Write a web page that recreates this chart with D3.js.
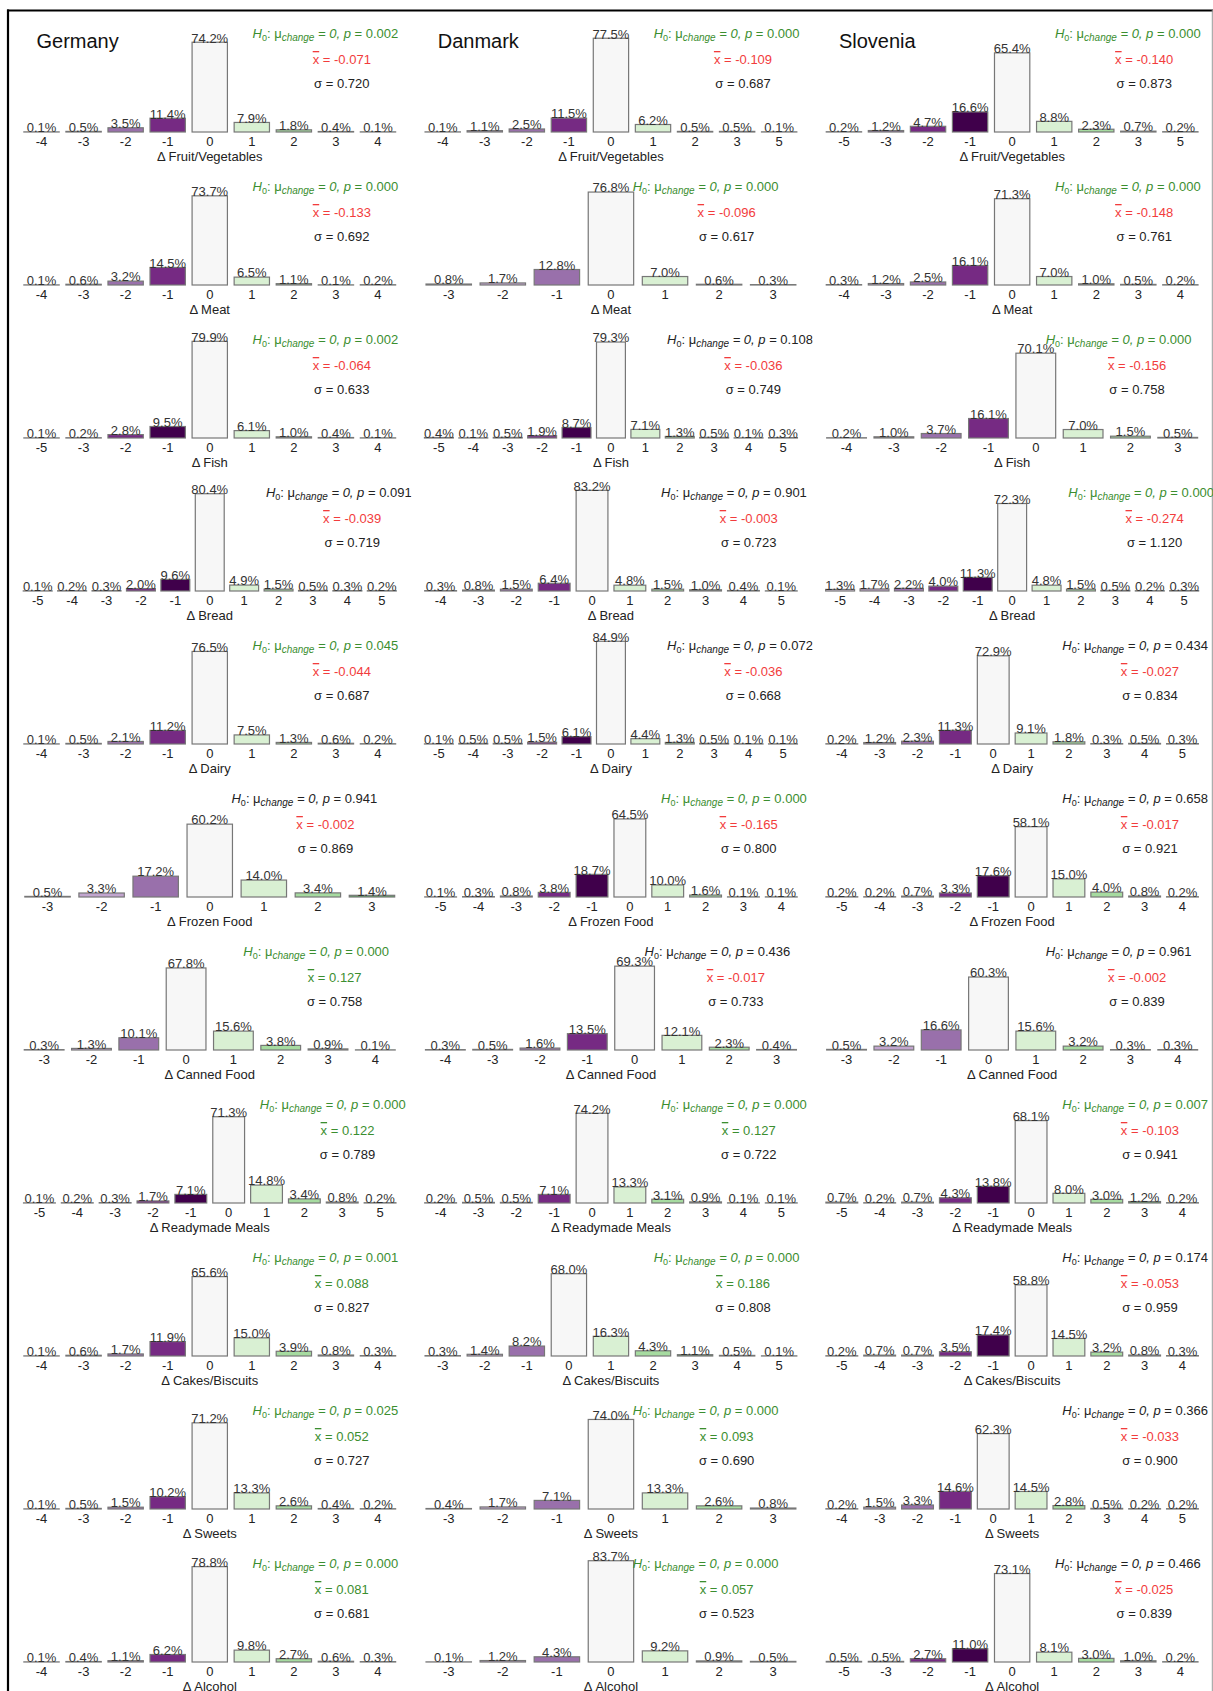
<!DOCTYPE html>
<html>
<head>
<meta charset="utf-8">
<script src="https://cdn.jsdelivr.net/npm/d3@7"></script>
<style>
  html, body { margin: 0; padding: 0; background: #fff; }
  svg { display: block; font-family: "Liberation Sans", Arial, sans-serif; }
</style>
</head>
<body>
<script>
// ---------------- DATA ----------------
const countries = ["Germany", "Danmark", "Slovenia"];
const foods = ["Fruit/Vegetables", "Meat", "Fish", "Bread", "Dairy", "Frozen Food",
  "Canned Food", "Readymade Meals", "Cakes/Biscuits", "Sweets", "Alcohol"];

// observed change categories per food (tick labels)
const germanyCats = [
  [-4,-3,-2,-1,0,1,2,3,4],
  [-4,-3,-2,-1,0,1,2,3,4],
  [-5,-3,-2,-1,0,1,2,3,4],
  [-5,-4,-3,-2,-1,0,1,2,3,4,5],
  [-4,-3,-2,-1,0,1,2,3,4],
  [-3,-2,-1,0,1,2,3],
  [-3,-2,-1,0,1,2,3,4],
  [-5,-4,-3,-2,-1,0,1,2,3,5],
  [-4,-3,-2,-1,0,1,2,3,4],
  [-4,-3,-2,-1,0,1,2,3,4],
  [-4,-3,-2,-1,0,1,2,3,4]
];
const germanyPct = [
  [0.1,0.5,3.5,11.4,74.2,7.9,1.8,0.4,0.1],
  [0.1,0.6,3.2,14.5,73.7,6.5,1.1,0.1,0.2],
  [0.1,0.2,2.8,9.5,79.9,6.1,1.0,0.4,0.1],
  [0.1,0.2,0.3,2.0,9.6,80.4,4.9,1.5,0.5,0.3,0.2],
  [0.1,0.5,2.1,11.2,76.5,7.5,1.3,0.6,0.2],
  [0.5,3.3,17.2,60.2,14.0,3.4,1.4],
  [0.3,1.3,10.1,67.8,15.6,3.8,0.9,0.1],
  [0.1,0.2,0.3,1.7,7.1,71.3,14.8,3.4,0.8,0.2],
  [0.1,0.6,1.7,11.9,65.6,15.0,3.9,0.8,0.3],
  [0.1,0.5,1.5,10.2,71.2,13.3,2.6,0.4,0.2],
  [0.1,0.4,1.1,6.2,78.8,9.8,2.7,0.6,0.3]
];
const germanyP    = [0.002,0.000,0.002,0.091,0.045,0.941,0.000,0.000,0.001,0.025,0.000];
const germanyMean = [-0.071,-0.133,-0.064,-0.039,-0.044,-0.002,0.127,0.122,0.088,0.052,0.081];
const germanySd   = [0.720,0.692,0.633,0.719,0.687,0.869,0.758,0.789,0.827,0.727,0.681];

const danmarkCats = [
  [-4,-3,-2,-1,0,1,2,3,5],
  [-3,-2,-1,0,1,2,3],
  [-5,-4,-3,-2,-1,0,1,2,3,4,5],
  [-4,-3,-2,-1,0,1,2,3,4,5],
  [-5,-4,-3,-2,-1,0,1,2,3,4,5],
  [-5,-4,-3,-2,-1,0,1,2,3,4],
  [-4,-3,-2,-1,0,1,2,3],
  [-4,-3,-2,-1,0,1,2,3,4,5],
  [-3,-2,-1,0,1,2,3,4,5],
  [-3,-2,-1,0,1,2,3],
  [-3,-2,-1,0,1,2,3]
];
const danmarkPct = [
  [0.1,1.1,2.5,11.5,77.5,6.2,0.5,0.5,0.1],
  [0.8,1.7,12.8,76.8,7.0,0.6,0.3],
  [0.4,0.1,0.5,1.9,8.7,79.3,7.1,1.3,0.5,0.1,0.3],
  [0.3,0.8,1.5,6.4,83.2,4.8,1.5,1.0,0.4,0.1],
  [0.1,0.5,0.5,1.5,6.1,84.9,4.4,1.3,0.5,0.1,0.1],
  [0.1,0.3,0.8,3.8,18.7,64.5,10.0,1.6,0.1,0.1],
  [0.3,0.5,1.6,13.5,69.3,12.1,2.3,0.4],
  [0.2,0.5,0.5,7.1,74.2,13.3,3.1,0.9,0.1,0.1],
  [0.3,1.4,8.2,68.0,16.3,4.3,1.1,0.5,0.1],
  [0.4,1.7,7.1,74.0,13.3,2.6,0.8],
  [0.1,1.2,4.3,83.7,9.2,0.9,0.5]
];
const danmarkP    = [0.000,0.000,0.108,0.901,0.072,0.000,0.436,0.000,0.000,0.000,0.000];
const danmarkMean = [-0.109,-0.096,-0.036,-0.003,-0.036,-0.165,-0.017,0.127,0.186,0.093,0.057];
const danmarkSd   = [0.687,0.617,0.749,0.723,0.668,0.800,0.733,0.722,0.808,0.690,0.523];

const sloveniaCats = [
  [-5,-3,-2,-1,0,1,2,3,5],
  [-4,-3,-2,-1,0,1,2,3,4],
  [-4,-3,-2,-1,0,1,2,3],
  [-5,-4,-3,-2,-1,0,1,2,3,4,5],
  [-4,-3,-2,-1,0,1,2,3,4,5],
  [-5,-4,-3,-2,-1,0,1,2,3,4],
  [-3,-2,-1,0,1,2,3,4],
  [-5,-4,-3,-2,-1,0,1,2,3,4],
  [-5,-4,-3,-2,-1,0,1,2,3,4],
  [-4,-3,-2,-1,0,1,2,3,4,5],
  [-5,-3,-2,-1,0,1,2,3,4]
];
const sloveniaPct = [
  [0.2,1.2,4.7,16.6,65.4,8.8,2.3,0.7,0.2],
  [0.3,1.2,2.5,16.1,71.3,7.0,1.0,0.5,0.2],
  [0.2,1.0,3.7,16.1,70.1,7.0,1.5,0.5],
  [1.3,1.7,2.2,4.0,11.3,72.3,4.8,1.5,0.5,0.2,0.3],
  [0.2,1.2,2.3,11.3,72.9,9.1,1.8,0.3,0.5,0.3],
  [0.2,0.2,0.7,3.3,17.6,58.1,15.0,4.0,0.8,0.2],
  [0.5,3.2,16.6,60.3,15.6,3.2,0.3,0.3],
  [0.7,0.2,0.7,4.3,13.8,68.1,8.0,3.0,1.2,0.2],
  [0.2,0.7,0.7,3.5,17.4,58.8,14.5,3.2,0.8,0.3],
  [0.2,1.5,3.3,14.6,62.3,14.5,2.8,0.5,0.2,0.2],
  [0.5,0.5,2.7,11.0,73.1,8.1,3.0,1.0,0.2]
];
const sloveniaP    = [0.000,0.000,0.000,0.000,0.434,0.658,0.961,0.007,0.174,0.366,0.466];
const sloveniaMean = [-0.140,-0.148,-0.156,-0.274,-0.027,-0.017,-0.002,-0.103,-0.053,-0.033,-0.025];
const sloveniaSd   = [0.873,0.761,0.758,1.120,0.834,0.921,0.839,0.941,0.959,0.900,0.839];

// ---------------- DRAWING ----------------
const catsBy = [germanyCats, danmarkCats, sloveniaCats];
const pctBy  = [germanyPct, danmarkPct, sloveniaPct];
const pBy    = [germanyP, danmarkP, sloveniaP];
const meanBy = [germanyMean, danmarkMean, sloveniaMean];
const sdBy   = [germanySd, danmarkSd, sloveniaSd];

const W = 1213, H = 1691;
const GREEN = "#3b8e2f", RED = "#f23c3c", DARK = "#222";
const PRGn = d3.schemePRGn[11];

function fillFor(v, minCat) {
  if (v === 0) return PRGn[5];
  if (v < 0) return PRGn[Math.max(0, Math.min(4, (5 + minCat) + (-v - 1)))];
  return PRGn[Math.min(10, 5 + v)];
}

const svg = d3.select("body").append("svg").attr("width", W).attr("height", H);
const defs = svg.append("defs");

// outer frame
svg.append("line").attr("x1", 8).attr("x2", 8).attr("y1", 9.5).attr("y2", H)
  .attr("stroke", "#000").attr("stroke-width", 2.2);
svg.append("line").attr("x1", 7).attr("x2", 1213).attr("y1", 10.5).attr("y2", 10.5)
  .attr("stroke", "#000").attr("stroke-width", 2.2);
svg.append("line").attr("x1", 1212.3).attr("x2", 1212.3).attr("y1", 10).attr("y2", H)
  .attr("stroke", "#999").attr("stroke-width", 1);

countries.forEach((country, c) => {
  const x0 = 20.5 + c * 401.2, x1 = x0 + 378.5;
  defs.append("clipPath").attr("id", "clip" + c)
    .append("rect").attr("x", x0 - 12.5).attr("y", 0).attr("width", 403.5).attr("height", H);
  const g = svg.append("g").attr("clip-path", `url(#clip${c})`);

  g.append("text").text(country)
    .attr("x", x0 + 16).attr("y", 48)
    .attr("font-size", 20).attr("fill", "#111");

  foods.forEach((food, r) => {
    const base = 132 + r * 153;
    const cats = catsBy[c][r], vals = pctBy[c][r];
    const minCat = d3.min(cats);
    const data = cats.map((k, i) => ({ k, v: vals[i] }));

    const x = d3.scaleBand().domain(cats).range([x0, x1])
      .paddingInner(0.16).paddingOuter(0.08);
    const y = d3.scaleLinear().domain([0, 100]).range([base, base - 121]);
    const step = x.step();

    const pg = g.append("g");

    pg.selectAll("rect.bar").data(data).join("rect")
      .attr("class", "bar")
      .attr("x", d => x(d.k))
      .attr("width", x.bandwidth())
      .attr("y", d => y(d.v))
      .attr("height", d => y(0) - y(d.v))
      .attr("fill", d => fillFor(d.k, minCat))
      .attr("stroke", "#777")
      .attr("stroke-width", 1.2);

    pg.selectAll("text.val").data(data).join("text")
      .attr("class", "val")
      .attr("x", d => x(d.k) + x.bandwidth() / 2)
      .attr("y", d => y(d.v) + 0.3)
      .attr("text-anchor", "middle")
      .attr("font-size", 13).attr("fill", "#333")
      .text(d => d.v.toFixed(1) + "%");

    const ax = pg.append("g").attr("transform", `translate(0,${base})`)
      .call(d3.axisBottom(x).tickSize(0).tickPadding(4.8));
    ax.select(".domain").remove();
    ax.selectAll("text").attr("font-size", 13).attr("fill", DARK)
      .attr("font-family", "Liberation Sans, Arial, sans-serif");

    pg.append("text")
      .attr("x", (x0 + x1) / 2).attr("y", base + 28.5)
      .attr("text-anchor", "middle").attr("font-size", 13).attr("fill", DARK)
      .text("\u0394 " + food);

    // statistics
    const p = pBy[c][r], m = meanBy[c][r], s = sdBy[c][r];
    const hx = x1 - 1.75 * step, mx = x1 - 1.36 * step;
    const hCol = p < 0.05 ? GREEN : DARK;
    const ht = pg.append("text").attr("x", hx).attr("y", base - 94.3)
      .attr("text-anchor", "middle").attr("font-size", 13).attr("fill", hCol);
    ht.append("tspan").attr("font-style", "italic").text("H");
    ht.append("tspan").attr("font-size", 9).attr("dy", 3).text("0");
    ht.append("tspan").attr("dy", -3).text(": \u03bc");
    ht.append("tspan").attr("font-size", 10).attr("font-style", "italic")
      .attr("dy", 3).text("change");
    ht.append("tspan").attr("dy", -3).attr("font-style", "italic").text(" = 0, p");
    ht.append("tspan").text(" = " + p.toFixed(3));

    const mt = pg.append("text").attr("x", mx).attr("y", base - 68)
      .attr("text-anchor", "middle").attr("font-size", 13)
      .attr("fill", m < 0 ? RED : GREEN);
    mt.append("tspan").style("text-decoration", "overline").text("x");
    mt.append("tspan").text(" = " + m.toFixed(3));

    pg.append("text").attr("x", mx).attr("y", base - 43.7)
      .attr("text-anchor", "middle").attr("font-size", 13).attr("fill", DARK)
      .text("\u03c3 = " + s.toFixed(3));
  });
});
</script>
</body>
</html>
